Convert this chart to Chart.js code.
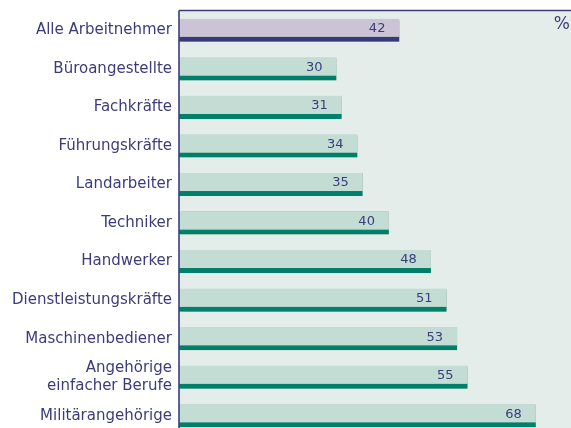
<!DOCTYPE html>
<html><head><meta charset="utf-8">
<script src="https://cdn.jsdelivr.net/npm/chart.js@4/dist/chart.umd.min.js"></script>
<style>html,body{margin:0;padding:0;background:#fff;overflow:hidden}#wrap{width:571px;height:435px;position:relative}</style>
</head><body><div id="wrap"><canvas id="c"></canvas></div>
<script>
const categories = ["Alle Arbeitnehmer","Büroangestellte","Fachkräfte","Führungskräfte","Landarbeiter","Techniker","Handwerker","Dienstleistungskräfte","Maschinenbediener",["Angehörige","einfacher Berufe"],"Militärangehörige"];
const values = [42,30,31,34,35,40,48,51,53,55,68];
const unitLabel = "%";

const navy = "#3c3c7c";
const FONT = "'DejaVu Sans', Verdana, sans-serif";
const fills = values.map((v,i)=> i===0 ? "#cbc4d6" : "#c3dcd4");
const strips = values.map((v,i)=> i===0 ? "#39397a" : "#00806a");

const bgPlugin = {
  id:"bg",
  beforeDraw(chart){
    const {ctx, chartArea:a} = chart;
    ctx.save();
    ctx.fillStyle = "#e4ede9";
    ctx.fillRect(a.left, a.top-1, chart.width-a.left, chart.height-a.top+1);
    ctx.fillStyle = navy;
    ctx.font = "17px " + FONT;
    ctx.textAlign = "right"; ctx.textBaseline = "middle";
    ctx.fillText(unitLabel, 570, 25);
    ctx.restore();
  },
  beforeDatasetsDraw(chart){
    const ctx = chart.ctx;
    ctx.save();
    ctx.shadowColor = "rgba(90,140,125,0.6)";
    ctx.shadowOffsetX = 2; ctx.shadowOffsetY = 0; ctx.shadowBlur = 1;
  },
  afterDatasetsDraw(chart){
    const ctx = chart.ctx;
    const a = chart.chartArea;
    ctx.restore();
    ctx.save();
    ctx.strokeStyle = navy; ctx.lineWidth = 1.6;
    ctx.beginPath();
    ctx.moveTo(a.left, a.top-0.5); ctx.lineTo(chart.width, a.top-0.5);
    ctx.moveTo(a.left, a.top-0.5); ctx.lineTo(a.left, chart.height);
    ctx.stroke();
    const meta = chart.getDatasetMeta(0);
    ctx.fillStyle = navy;
    ctx.font = "13px " + FONT;
    ctx.textAlign = "right"; ctx.textBaseline = "middle";
    meta.data.forEach((bar,i)=>{
      ctx.fillText(String(values[i]), bar.x - 14, bar.y - 1.5);
    });
    ctx.restore();
  }
};

new Chart(document.getElementById("c"), {
  type:"bar",
  data:{ labels:categories, datasets:[{
    data:values,
    backgroundColor:fills,
    borderColor:strips,
    borderWidth:{top:0,left:0,right:0,bottom:5},
    borderSkipped:false,
    barPercentage:0.6,
    categoryPercentage:1.0
  }]},
  options:{
    indexAxis:"y",
    responsive:true, maintainAspectRatio:false, animation:false,
    layout:{padding:{top:11,right:0,bottom:0,left:0}},
    plugins:{legend:{display:false},tooltip:{enabled:false}},
    scales:{
      x:{display:false,min:0,max:74.7},
      y:{
        afterFit(s){ s.width = 179; s.paddingTop = 0; s.paddingBottom = 0; },
        grid:{display:false,drawTicks:false},
        border:{display:false},
        ticks:{color:navy,padding:7,font:{family:FONT,size:15},autoSkip:false}
      }
    }
  },
  plugins:[bgPlugin]
});
</script></body></html>
